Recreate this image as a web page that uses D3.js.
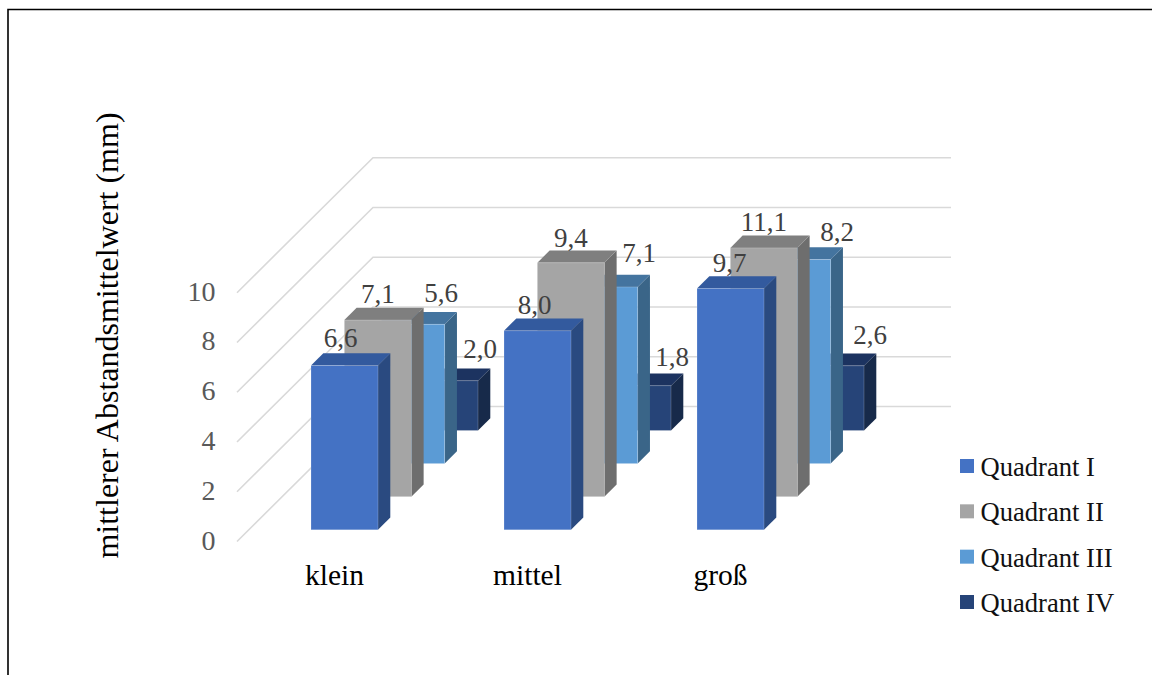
<!DOCTYPE html>
<html lang="de">
<head>
<meta charset="utf-8">
<script src="https://cdn.jsdelivr.net/npm/d3@7/dist/d3.min.js"></script>
<style>
  html, body { margin: 0; padding: 0; background: #fff; overflow: hidden; }
  svg { display: block; font-family: "Liberation Serif", serif; }
</style>
</head>
<body>
<svg id="chart" width="1152" height="675"></svg>
<script>
// Chart data
const categories = ["klein", "mittel", "groß"];
const seriesNames = ["Quadrant I", "Quadrant II", "Quadrant III", "Quadrant IV"];
const quadrantI = [6.6, 8.0, 9.7];
const quadrantII = [7.1, 9.4, 11.1];
const quadrantIII = [5.6, 7.1, 8.2];
const quadrantIV = [2.0, 1.8, 2.6];
const yTicks = [0, 2, 4, 6, 8, 10];
const yTitle = "mittlerer Abstandsmittelwert (mm)";

const seriesValues = [quadrantI, quadrantII, quadrantIII, quadrantIV];
const faceColors = [
  { front: "#4472c4", side: "#2a4a80", top: "#335a9e" },
  { front: "#a5a5a5", side: "#6e6e6e", top: "#7f7f7f" },
  { front: "#5b9bd5", side: "#3a6588", top: "#44749f" },
  { front: "#264478", side: "#172a4a", top: "#1c3360" }
];

// Oblique projection: the value axis is clamped at its top tick, so taller bars stop there
const height = d3.scaleLinear().domain([0, 10]).range([0, 248.8]).clamp(true);
const catX = d3.scalePoint().domain(categories).range([311, 697]);
const depthX = d3.scalePoint().domain(seriesNames).range([0, 100]);
const depthY = d3.scalePoint().domain(seriesNames).range([529.8, 430.5]);
const barWidth = 67;
const barDepth = 12.3;

// Floor and walls
const wall = { frontX: 237, frontY: 541.5, backX: 373, backY: 406.5, rightX: 951 };

const svg = d3.select("#chart");

// Outer frame of the figure
svg.append("path")
  .attr("d", "M8,675 V9.5 H1152")
  .attr("fill", "none").attr("stroke", "#000").attr("stroke-width", 1.6);

// Grid lines on the side wall and the back wall
const grid = svg.append("g").attr("fill", "none").attr("stroke", "#d9d9d9").attr("stroke-width", 1.6);
grid.selectAll("path").data(yTicks).join("path")
  .attr("d", t => {
    const h = height(t);
    return `M${wall.frontX},${wall.frontY - h} L${wall.backX},${wall.backY - h} H${wall.rightX}`;
  });

// Value axis labels
svg.append("g").selectAll("text").data(yTicks).join("text")
  .attr("x", 215.5).attr("y", t => 549.5 - height(t))
  .attr("text-anchor", "end").attr("font-size", 28).attr("fill", "#595959")
  .text(t => t);

// Bars, drawn from the rear row to the front row
const label = d3.format(".1f");
// Per-bar shifts that keep labels clear of neighbouring bars
const labelShiftX = [
  [-4, -3, -1],
  [0, 0, 0],
  [30, 35, 40],
  [35.5, 34.5, 39.5]
];
const labelRise = [
  [28, 26, 25],
  [26, 25, 26],
  [31, 34, 28],
  [32, 29, 31]
];

const rows = d3.range(seriesNames.length).reverse();
rows.forEach(s => {
  const name = seriesNames[s];
  const g = svg.append("g");
  const bars = g.selectAll("g").data(categories.map((c, i) => ({ c, i, v: seriesValues[s][i] }))).join("g");
  const x0 = d => catX(d.c) + depthX(name);
  const yb = depthY(name);
  const yt = d => yb - height(d.v);

  bars.append("path").attr("fill", faceColors[s].side)
    .attr("d", d => {
      const x = x0(d) + barWidth;
      return `M${x},${yb} l${barDepth},${-barDepth} V${yt(d) - barDepth} L${x},${yt(d)} Z`;
    });
  bars.append("path").attr("fill", faceColors[s].top)
    .attr("d", d => {
      const x = x0(d);
      return `M${x},${yt(d)} l${barDepth},${-barDepth} h${barWidth} l${-barDepth},${barDepth} Z`;
    });
  bars.append("rect").attr("fill", faceColors[s].front)
    .attr("stroke", "#fff").attr("stroke-opacity", 0.25).attr("stroke-width", 0.8)
    .attr("x", x0).attr("y", yt)
    .attr("width", barWidth).attr("height", d => yb - yt(d));
});

// Data labels sit above everything else
rows.forEach(s => {
  const name = seriesNames[s];
  svg.append("g").selectAll("text")
    .data(categories.map((c, i) => ({ c, i, v: seriesValues[s][i] })))
    .join("text")
    .attr("x", d => catX(d.c) + depthX(name) + barWidth / 2 + labelShiftX[s][d.i])
    .attr("y", d => depthY(name) - height(d.v) - labelRise[s][d.i] + 9)
    .attr("text-anchor", "middle").attr("font-size", 27).attr("fill", "#404040")
    .text(d => label(d.v).replace(".", ","));
});

// Category labels
svg.append("g").selectAll("text").data(categories).join("text")
  .attr("x", d => catX(d) + 23.5).attr("y", 585)
  .attr("text-anchor", "middle").attr("font-size", 29.5).attr("fill", "#000")
  .text(d => d);

// Axis title
svg.append("text")
  .attr("transform", "translate(118,335.5) rotate(-90)")
  .attr("text-anchor", "middle").attr("font-size", 32).attr("fill", "#000")
  .text(yTitle);

// Legend
const legendY = d3.scalePoint().domain(seriesNames).range([466, 602]);
const legend = svg.append("g").selectAll("g").data(seriesNames).join("g")
  .attr("transform", d => `translate(960,${legendY(d)})`);
legend.append("rect")
  .attr("x", 0).attr("y", -7).attr("width", 14).attr("height", 14)
  .attr("fill", (d, i) => faceColors[i].front);
legend.append("text")
  .attr("x", 20.5).attr("y", 10).attr("font-size", 26.6).attr("fill", "#111")
  .text(d => d);
</script>
</body>
</html>
